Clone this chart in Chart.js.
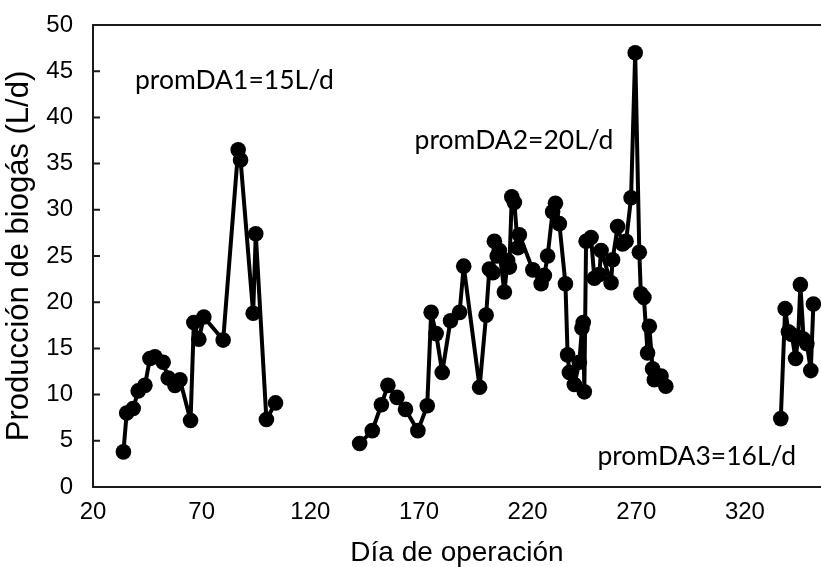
<!DOCTYPE html>
<html>
<head>
<meta charset="utf-8">
<script src="https://cdn.jsdelivr.net/npm/chart.js@4"></script>
<style>
  html, body { margin: 0; padding: 0; background: #fff; overflow: hidden; }
  #wrap { position: relative; width: 821px; height: 567px; }
</style>
</head>
<body>
<div id="wrap"><canvas id="biogas"></canvas></div>
<script>
// periodo DA1
const days1 = [34, 35.5, 38.5, 40.8, 43.9, 46.2, 48.5, 52.3, 54.6, 57.7, 60, 64.9, 66.4, 68.7, 71, 79.9, 86.8, 87.9, 93.7, 94.9, 99.8, 104]
const vals1 = [3.8, 8.0, 8.5, 10.4, 11.0, 13.9, 14.1, 13.5, 11.8, 11.0, 11.6, 7.2, 17.8, 16.0, 18.4, 15.9, 36.5, 35.4, 18.8, 27.4, 7.3, 9.1]

// periodo DA2
const days2 = [142.7, 148.5, 152.7, 155.7, 159.9, 163.8, 169.5, 173.8, 175.6, 177.9, 180.7, 184.5, 188.7, 190.6, 197.9,
  200.9, 202.4, 204.0, 204.7, 206.0, 207.0, 209.3, 210.8, 211.6, 212.7, 213.9, 215.5, 216.2, 222.4, 226.2,
  227.7, 229.2, 231.5, 232.8, 234.6, 237.4, 238.4, 239.2, 241.5, 243.8, 245.0, 245.6, 246.1, 246.9, 249.2,
  250.7, 253.0, 253.8, 258.4, 259.1, 261.4, 263.7, 265.3, 267.6, 269.5, 271.4, 272.1, 273.5, 275.2, 276.0,
  277.5, 278.3, 281.4, 283.6]
const vals2 = [4.7, 6.1, 8.9, 11.0, 9.7, 8.4, 6.1, 8.8, 18.9, 16.6, 12.4, 18.0, 18.9, 23.9, 10.8,
  18.6, 23.6, 23.2, 26.6, 25.0, 25.6, 21.1, 24.5, 23.8, 31.4, 30.8, 25.9, 27.3, 23.5, 22.0,
  22.9, 25.0, 29.8, 30.7, 28.5, 22.0, 14.3, 12.4, 11.1, 13.5, 17.2, 17.8, 10.3, 26.6, 27.0,
  22.6, 23.0, 25.6, 22.1, 24.6, 28.2, 26.3, 26.6, 31.3, 47.0, 25.4, 20.9, 20.5, 14.5, 17.4,
  12.8, 11.6, 12.0, 10.9]

// periodo DA3
const days3 = [336.5, 338.5, 340.0, 341.5, 343.3, 344.5, 345.5, 347.0, 348.5, 350.3, 351.5]
const vals3 = [7.4, 19.3, 16.8, 16.5, 13.9, 16.2, 21.9, 16.0, 15.5, 12.6, 19.8]

const xTicks = [20, 70, 120, 170, 220, 270, 320]

// promedios por periodo, anclados en unidades de los ejes
const notes = [
  { text: 'promDA1=15L/d', day: 39.3, val: 44.0 },
  { text: 'promDA2=20L/d', day: 168.0, val: 37.5 },
  { text: 'promDA3=16L/d', day: 252.1, val: 3.35 }
]

const toPoints = (days, vals) => days.map((d, i) => ({ x: d, y: vals[i] }))

function serie(days, vals){
  return {
    data: toPoints(days, vals),
    borderColor: '#000',
    backgroundColor: '#000',
    borderWidth: 4,
    borderJoinStyle: 'round',
    borderCapStyle: 'round',
    pointRadius: 7.8,
    pointBorderWidth: 0,
    pointBackgroundColor: '#000',
    tension: 0,
    clip: false,
  }
}

// marco superior, marcas interiores del eje y y textos de promedio
const frame = {
  id: 'frame',
  beforeDatasetsDraw(chart){
    const { ctx, chartArea: a, scales: { y } } = chart
    ctx.save()
    ctx.strokeStyle = '#1a1a1a'
    ctx.lineWidth = 2
    ctx.beginPath()
    ctx.moveTo(a.left - 1, a.top)
    ctx.lineTo(a.right, a.top)
    y.ticks.forEach((t) => {
      const py = y.getPixelForValue(t.value)
      ctx.moveTo(a.left, py)
      ctx.lineTo(a.left + 7, py)
    })
    ctx.stroke()
    ctx.restore()
  },
  afterDraw(chart){
    const { ctx, scales: { x, y } } = chart
    ctx.save()
    ctx.fillStyle = '#000'
    ctx.font = '26.5px Lato, "Noto Sans", sans-serif'
    ctx.textAlign = 'left'
    ctx.textBaseline = 'middle'
    notes.forEach((n) => {
      ctx.fillText(n.text, x.getPixelForValue(n.day), y.getPixelForValue(n.val))
    })
    ctx.restore()
  }
}

const ctx = document.getElementById('biogas').getContext('2d')

new Chart(ctx, {
  type: 'line',
  data: {
    datasets: [serie(days1, vals1), serie(days2, vals2), serie(days3, vals3)]
  },
  options: {
    responsive: true,
    maintainAspectRatio: false,
    animation: false,
    layout: { autoPadding: false, padding: { top: 25, right: 0, left: 0, bottom: 0 } },
    plugins: {
      legend: { display: false },
      tooltip: { enabled: false }
    },
    scales: {
      x: {
        type: 'linear',
        min: 20,
        max: 355,
        grid: { display: false, drawTicks: false },
        border: { display: true, color: '#1a1a1a', width: 2 },
        afterBuildTicks: (s) => { s.ticks = xTicks.map((v) => ({ value: v })) },
        afterFit: (s) => {
          s.height = 80
          s.paddingLeft = 0
          s.paddingRight = 0
        },
        ticks: {
          color: '#000',
          padding: 11,
          maxRotation: 0,
          font: { family: '"Liberation Sans", Arial, sans-serif', size: 24 }
        },
        title: {
          display: true,
          text: 'Día de operación',
          color: '#000',
          padding: { top: 0, bottom: 0 },
          font: { family: '"Liberation Sans", Arial, sans-serif', size: 28, lineHeight: 1 }
        }
      },
      y: {
        min: 0,
        max: 50,
        grid: { display: false, drawTicks: false },
        border: { display: true, color: '#1a1a1a', width: 2 },
        afterFit: (s) => {
          s.width = 93
          s.paddingTop = 0
          s.paddingBottom = 0
        },
        ticks: {
          stepSize: 5,
          color: '#000',
          padding: 20,
          font: { family: '"Liberation Sans", Arial, sans-serif', size: 24 }
        },
        title: {
          display: true,
          text: 'Producción de biogás (L/d)',
          color: '#000',
          padding: { top: 4, bottom: 0 },
          font: { family: '"Liberation Sans", Arial, sans-serif', size: 31, lineHeight: 1 }
        }
      }
    }
  },
  plugins: [frame]
})
</script>
</body>
</html>
